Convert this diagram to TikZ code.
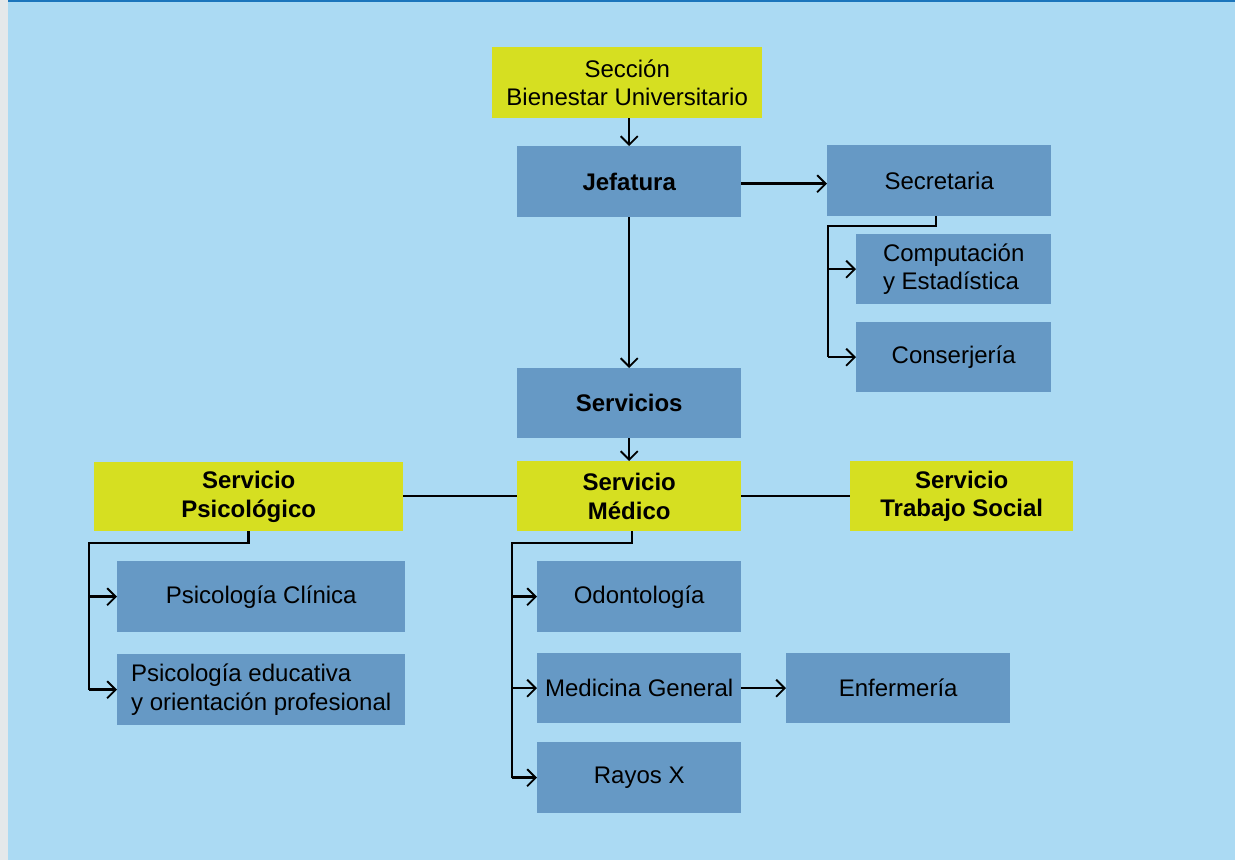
\documentclass[tikz,border=0pt]{standalone}
\usepackage{fontspec}
\setmainfont{Liberation Sans}
\usetikzlibrary{arrows.meta}
\definecolor{bg}{HTML}{ABDAF3}
\definecolor{topline}{HTML}{1B75BC}
\definecolor{boxblue}{HTML}{6699C5}
\definecolor{boxyellow}{HTML}{D6DF21}
\definecolor{strip}{HTML}{E4E8EA}
\tikzset{
  base/.style={rectangle, inner sep=0pt, anchor=north west, align=center,
    font=\fontsize{24}{28.5}\selectfont, text=black},
  bluebox/.style={base, fill=boxblue},
  yelbox/.style={base, fill=boxyellow},
  conn/.style={draw=black, line width=2.5pt},
  arr/.style={conn, -{Straight Barb[length=8.5pt, width=17pt, line width=1.9pt]}},
}
\begin{document}
\begin{tikzpicture}[x=1pt, y=-1pt]
\useasboundingbox (0,0) rectangle (1235,860);
\fill[strip] (0,0) rectangle (8,860);
\fill[bg] (8,0) rectangle (1235,860);
\fill[topline] (8,0) rectangle (1235,2.2);

\node[yelbox, minimum width=270pt, minimum height=71pt] (secc) at (492,47) {Sección\\Bienestar Universitario};
\node[bluebox, minimum width=224pt, minimum height=71pt] (jef) at (517,146) {\bfseries Jefatura};
\node[bluebox, minimum width=224pt, minimum height=71pt] (sec) at (827,145) {Secretaria};
\node[bluebox, minimum width=195pt, minimum height=70pt, align=left] (comp) at (856,234) {Computación\\ y Estadística};
\node[bluebox, minimum width=195pt, minimum height=70pt] (cons) at (856,322) {Conserjería};
\node[bluebox, minimum width=224pt, minimum height=70pt] (serv) at (517,368) {\bfseries Servicios};
\node[yelbox, minimum width=224pt, minimum height=70pt] (med) at (517,461) {\bfseries Servicio\\\bfseries Médico};
\node[yelbox, minimum width=309pt, minimum height=69pt] (psi) at (94,462) {\bfseries Servicio\\\bfseries Psicológico};
\node[yelbox, minimum width=223pt, minimum height=70pt] (ts) at (850,461) {\bfseries Servicio\\\bfseries Trabajo Social};
\node[bluebox, minimum width=288pt, minimum height=71pt] (pclin) at (117,561) {Psicología Clínica};
\node[bluebox, minimum width=288pt, minimum height=71pt, align=left] (pedu) at (117,654) {Psicología educativa\\y orientación profesional};
\node[bluebox, minimum width=204pt, minimum height=71pt] (odon) at (537,561) {Odontología};
\node[bluebox, minimum width=204pt, minimum height=70pt] (mgen) at (537,653) {Medicina General};
\node[bluebox, minimum width=204pt, minimum height=71pt] (rayos) at (537,742) {Rayos X};
\node[bluebox, minimum width=224pt, minimum height=70pt] (enf) at (786,653) {Enfermería};

% connectors
\draw[arr] (jef.north |- secc.south) -- (jef.north);
\draw[arr] ([yshift=-2pt]jef.east) -- ([yshift=-2pt]sec.west |- jef.east);
\draw[arr] (jef.south) -- (serv.north);
\draw[arr] (serv.south) -- (med.north);
\draw[conn] (psi.east |- med.west) -- (med.west);
\draw[conn] (med.east) -- (ts.west |- med.east);
\draw[arr] (mgen.east) -- (enf.west);

% Secretaria branch
\coordinate (sb) at (828,226);
\draw[conn] ([xshift=-3pt]sec.south) |- (sb) -- (sb |- cons.west);
\draw[arr] (sb |- comp.west) -- (comp.west);
\draw[arr] (sb |- cons.west) -- (cons.west);

% Psicologico branch
\coordinate (pb) at (89,543);
\draw[conn] (psi.south) |- (pb) -- (pb |- pedu.west);
\draw[arr] (pb |- pclin.west) -- (pclin.west);
\draw[arr] (pb |- pedu.west) -- (pedu.west);

% Medico branch
\coordinate (mb) at (512,543);
\draw[conn] ([xshift=3pt]med.south) |- (mb) -- (mb |- rayos.west);
\draw[arr] (mb |- odon.west) -- (odon.west);
\draw[arr] (mb |- mgen.west) -- (mgen.west);
\draw[arr] (mb |- rayos.west) -- (rayos.west);
\end{tikzpicture}
\end{document}
